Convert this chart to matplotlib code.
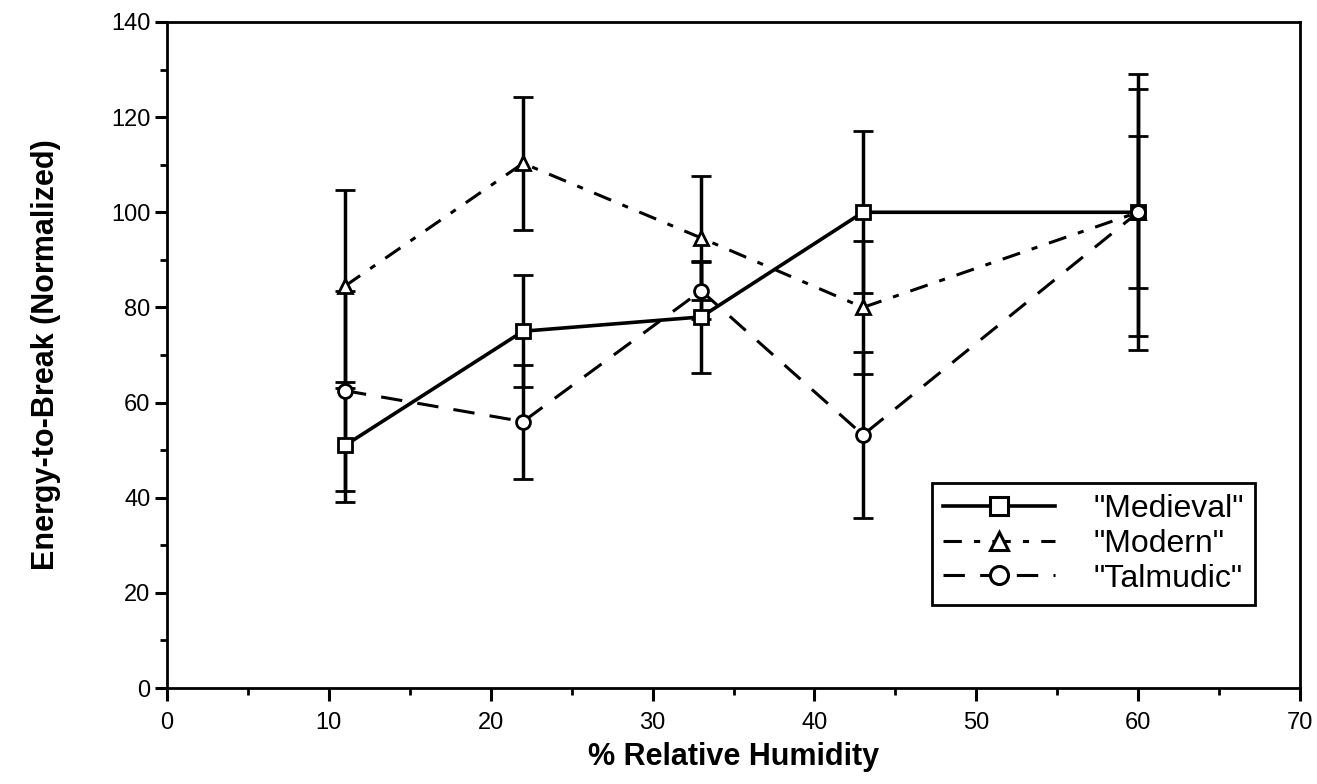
import matplotlib.pyplot as plt
from matplotlib.lines import Line2D
from matplotlib.ticker import MultipleLocator

plt.rcParams['font.family'] = ['Liberation Sans', 'DejaVu Sans']

humidity = [11, 22, 33, 43, 60]

medieval = [51.0, 75.0, 78.0, 100.0, 100.0]
medieval_err = [12.0, 11.8, 11.8, 17.0, 16.0]

modern = [84.5, 110.3, 94.6, 80.0, 100.0]
modern_err = [20.2, 14.0, 13.1, 14.0, 26.0]

talmudic = [62.5, 56.0, 83.5, 53.2, 100.0]
talmudic_err = [21.0, 12.0, 6.0, 17.5, 29.0]

labels = ['"Medieval"', '"Modern"', '"Talmudic"']
markers = ['s', '^', 'o']
styles = ['-', (0, (6, 4, 2, 4)), (0, (7, 5))]
widths = [2.6, 2.2, 2.2]

fig = plt.figure(figsize=(13.17, 7.84), dpi=100)
ax = fig.add_axes([0.1268, 0.1224, 0.8603, 0.8496])

common = dict(color='black', ecolor='black', elinewidth=2.5, capsize=7, capthick=2.5,
              markersize=10, markerfacecolor='white', markeredgewidth=2)

series = [(medieval, medieval_err), (modern, modern_err), (talmudic, talmudic_err)]
for (vals, errs), m, ls, lw in zip(series, markers, styles, widths):
    ax.errorbar(humidity, vals, yerr=errs, marker=m, linestyle=ls, linewidth=lw, **common)

ax.set_xlim(0, 70)
ax.set_ylim(0, 140)
ax.xaxis.set_major_locator(MultipleLocator(10))
ax.xaxis.set_minor_locator(MultipleLocator(5))
ax.yaxis.set_major_locator(MultipleLocator(20))
ax.yaxis.set_minor_locator(MultipleLocator(10))
ax.tick_params(which='major', direction='out', length=9, width=2.2, labelsize=17, pad=8)
ax.tick_params(axis='y', which='major', pad=3)
ax.tick_params(which='minor', direction='out', length=5, width=2)
for s in ax.spines.values():
    s.set_linewidth(2)

ax.set_xlabel('% Relative Humidity', fontsize=22, fontweight='bold', labelpad=6)
ax.set_ylabel('Energy-to-Break (Normalized)', fontsize=22, fontweight='bold', labelpad=36)

handles = [Line2D([], [], color='black', marker=m, linestyle=ls, linewidth=lw,
                  markersize=13, markerfacecolor='white', markeredgewidth=2.2)
           for m, ls, lw in zip(markers, styles, widths)]
leg = ax.legend(handles, labels, loc='lower right', bbox_to_anchor=(0.960, 0.125),
                borderaxespad=0, fontsize=23, frameon=True, fancybox=False,
                handlelength=3.5, borderpad=0.35, labelspacing=0.15, handletextpad=1.2)
leg.get_frame().set_edgecolor('black')
leg.get_frame().set_linewidth(2)
leg.get_frame().set_alpha(1)

fig.savefig('out.png', dpi=100)
